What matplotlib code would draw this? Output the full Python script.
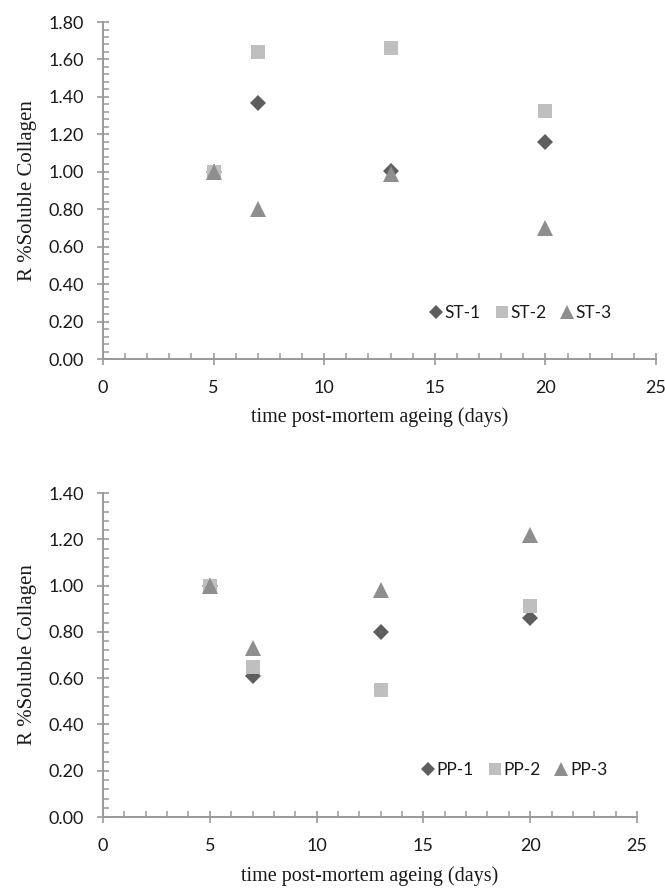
import matplotlib
matplotlib.use("Agg")
import matplotlib.pyplot as plt
from matplotlib.ticker import MultipleLocator, FormatStrFormatter

days = [5, 7, 13, 20]
st1 = [1.00, 1.365, 1.005, 1.16]
st2 = [1.00, 1.64, 1.66, 1.325]
st3 = [1.00, 0.80, 0.99, 0.70]
pp1 = [1.00, 0.61, 0.80, 0.86]
pp2 = [1.00, 0.65, 0.55, 0.91]
pp3 = [1.00, 0.73, 0.98, 1.22]
top_labels = ["ST-1", "ST-2", "ST-3"]
bot_labels = ["PP-1", "PP-2", "PP-3"]
xlabel = "time post-mortem ageing (days)"
ylabel = "R %Soluble Collagen"

colors = ["#5e5e5e", "#bfbfbf", "#8e8e8e"]
markers = ["D", "s", "^"]
msizes = [8, 10.5, 11.5]
axcol = "#999999"

fig = plt.figure(figsize=(6.65, 8.88), dpi=100)
ax1 = fig.add_axes([0.1549, 0.5957, 0.8316, 0.3795])
ax2 = fig.add_axes([0.1549, 0.0799, 0.803, 0.3649])

def style(ax, ymax, series, labels, leg_anchor, xlab_y, ylab_x):
    for vals, c, m, ms, lab in zip(series, colors, markers, msizes, labels):
        ax.plot(days, vals, linestyle="none", marker=m, markersize=ms,
                color=c, markeredgewidth=0, label=lab)
    ax.set_xlim(0, 25)
    ax.set_ylim(0, ymax)
    ax.xaxis.set_major_locator(MultipleLocator(5))
    ax.xaxis.set_minor_locator(MultipleLocator(1))
    ax.yaxis.set_major_locator(MultipleLocator(0.2))
    ax.yaxis.set_minor_locator(MultipleLocator(0.04))
    ax.yaxis.set_major_formatter(FormatStrFormatter("%.2f"))
    for s in ["top", "right"]:
        ax.spines[s].set_visible(False)
    for s in ["left", "bottom"]:
        ax.spines[s].set_color(axcol)
        ax.spines[s].set_linewidth(1.4)
    ax.tick_params(which="major", direction="inout", length=8, width=1.2,
                   color=axcol, labelsize=13, labelcolor="#1a1a1a")
    ax.tick_params(which="minor", direction="in", length=4, width=1.1, color=axcol)
    ax.tick_params(axis="y", which="major", pad=10)
    ax.tick_params(axis="x", which="major", pad=11)
    for lab in ax.get_xticklabels() + ax.get_yticklabels():
        lab.set_fontfamily("Lato")
    ax.set_xlabel(xlabel, fontfamily="Liberation Serif", fontsize=14.5, color="#1a1a1a")
    ax.set_ylabel(ylabel, fontfamily="Liberation Serif", fontsize=15, color="#1a1a1a")
    ax.xaxis.set_label_coords(0.5, xlab_y)
    ax.yaxis.label.set_va("center")
    ax.yaxis.set_label_coords(ylab_x, 0.5)
    leg = ax.legend(loc="center", bbox_to_anchor=leg_anchor, ncol=3, frameon=False,
                    prop={"family": "Lato", "size": 12.5}, handlelength=0.8,
                    handletextpad=0.1, columnspacing=0.8, markerscale=0.85)
    for t in leg.get_texts():
        t.set_color("#1a1a1a")

style(ax1, 1.8, [st1, st2, st3], top_labels, (0.755, 0.137), -0.142, -0.137)
style(ax2, 1.4, [pp1, pp2, pp3], bot_labels, (0.77, 0.145), -0.152, -0.142)

fig.savefig("out.png", dpi=100)
